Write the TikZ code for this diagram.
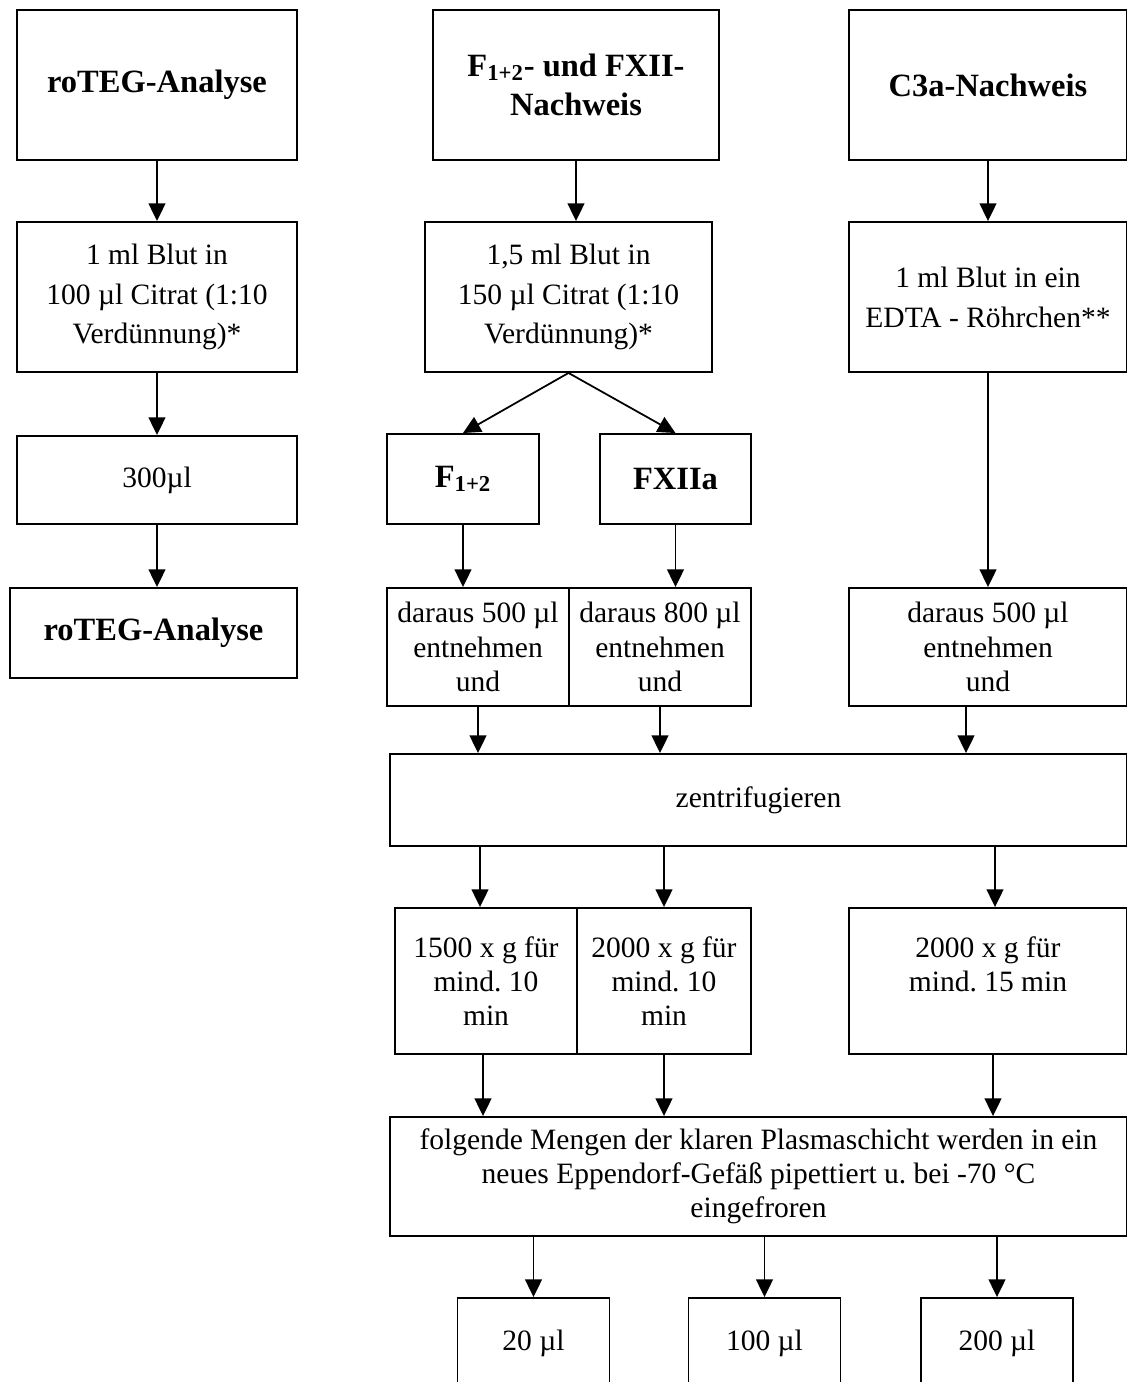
\documentclass[tikz,border=0pt]{standalone}
\usepackage{fontspec}
\setmainfont{Liberation Serif}
\usetikzlibrary{arrows.meta, positioning}
\frenchspacing

\tikzset{
  kasten/.style={draw, line width=1.1pt, align=center, inner sep=2pt,
    font=\fontsize{16.8}{19.5}\selectfont},
  weit/.style={kasten, font=\fontsize{16.8}{22.7}\selectfont},
  titel/.style={kasten, font=\fontsize{18.5}{22.5}\selectfont\bfseries},
  pfeil/.style={-{Triangle[length=10pt, width=9.5pt]}, line width=1pt},
}

\begin{document}
\begin{tikzpicture}[x=0.02cm, y=-0.02cm]
                \useasboundingbox (0,0) rectangle (1126,1382);
                % Kopfzeile
                \node [titel, minimum width=5.6cm, minimum height=3cm] (titelA) at (157,85) {roTEG-Analyse};
                \node [titel, minimum width=5.72cm, minimum height=3cm] (titelB) at (576,85) {F\textsubscript{1+2}- und FXII-\\Nachweis};
                \node [titel, minimum width=5.56cm, minimum height=3cm] (titelC) at (988,85) {C3a-Nachweis};
                % Blutentnahme
                \node [weit, minimum width=5.6cm, minimum height=3cm] (blutA) at (157,297) {1 ml Blut in\\100 µl Citrat (1:10\\Verdünnung)*};
                \node [weit, minimum width=5.74cm, minimum height=3cm] (blutB) at (568.5,297) {1,5 ml Blut in\\150 µl Citrat (1:10\\Verdünnung)*};
                \node [weit, minimum width=5.56cm, minimum height=3cm] (blutC) at (988,297) {1 ml Blut in ein\\EDTA - Röhrchen**};
                \node [kasten, minimum width=5.6cm, minimum height=1.76cm] (volA) at (157,480) {300µl};
                \node [titel, minimum width=3.04cm, minimum height=1.8cm] (fA) at (463,479) {F\textsubscript{1+2}};
                \node [titel, minimum width=3.02cm, minimum height=1.8cm] (fB) at (675.5,479) {FXIIa};
                \node [titel, minimum width=5.74cm, minimum height=1.8cm] (rotegB) at (153.5,633) {roTEG-Analyse};
                \node [kasten, minimum width=3.64cm, minimum height=2.36cm] (darA) at (478,647) {daraus 500 µl\\entnehmen\\und};
                \node [kasten, minimum width=3.64cm, minimum height=2.36cm] (darB) at (660,647) {daraus 800 µl\\entnehmen\\und};
                \node [kasten, minimum width=5.56cm, minimum height=2.36cm] (darC) at (988,647) {daraus 500 µl\\entnehmen\\und};
                % Zentrifugation
                \node [kasten, minimum width=14.74cm, minimum height=1.84cm] (zentri) at (758.5,800) {zentrifugieren};
                \node [kasten, minimum width=3.64cm, minimum height=2.92cm] (gA) at (486,981) {1500 x g für\\mind. 10\\min};
                \node [kasten, minimum width=3.48cm, minimum height=2.92cm] (gB) at (664,981) {2000 x g für\\mind. 10\\min};
                \node [kasten, minimum width=5.56cm, minimum height=2.92cm] (gC) at (988,981) {2000 x g für\\mind. 15 min\\ \mbox{}};
                \node [kasten, minimum width=14.74cm, minimum height=2.38cm] (folg) at (758.5,1176.5) {folgende Mengen der klaren Plasmaschicht werden in ein\\neues Eppendorf-Gefäß pipettiert u. bei -70 °C\\eingefroren};
                % Aliquots
                \foreach \n/\x/\t in {mA/533.5/20, mB/764.5/100, mC/997/200}{
                  \node [kasten, minimum width=3.04cm, minimum height=1.8cm] (\n) at (\x,1343) {\t{} µl};
                  \draw [pfeil] (\n.north |- folg.south) -- (\n.north);
                }
                % Pfeile
                \draw [pfeil] (titelA) -- (blutA);
                \draw [pfeil] (titelB.south) -- (titelB.south |- blutB.north);
                \draw [pfeil] (titelC) -- (blutC);
                \draw [pfeil] (blutA) -- (volA);
                \draw [pfeil] (volA.south) -- (volA.south |- rotegB.north);
                \draw [pfeil] (blutB.south) -- (fA.north);
                \draw [pfeil] (blutB.south) -- (fB.north);
                \draw [pfeil] (blutC) -- (darC);
                \draw [pfeil] (fA.south) -- (fA.south |- darA.north);
                \draw [pfeil] (fB.south) -- (fB.south |- darB.north);
                \draw [pfeil] (darA.south) -- (darA.south |- zentri.north);
                \draw [pfeil] (darB.south) -- (darB.south |- zentri.north);
                \draw [pfeil] ([xshift=-0.44cm]darC.south) -- ([xshift=-0.44cm]darC.south |- zentri.north);
                \draw [pfeil] ([xshift=-0.12cm]gA.north |- zentri.south) -- ([xshift=-0.12cm]gA.north);
                \draw [pfeil] (gB.north |- zentri.south) -- (gB.north);
                \draw [pfeil] ([xshift=0.14cm]gC.north |- zentri.south) -- ([xshift=0.14cm]gC.north);
                \draw [pfeil] ([xshift=-0.06cm]gA.south) -- ([xshift=-0.06cm]gA.south |- folg.north);
                \draw [pfeil] (gB.south) -- (gB.south |- folg.north);
                \draw [pfeil] ([xshift=0.1cm]gC.south) -- ([xshift=0.1cm]gC.south |- folg.north);
\end{tikzpicture}
\end{document}
